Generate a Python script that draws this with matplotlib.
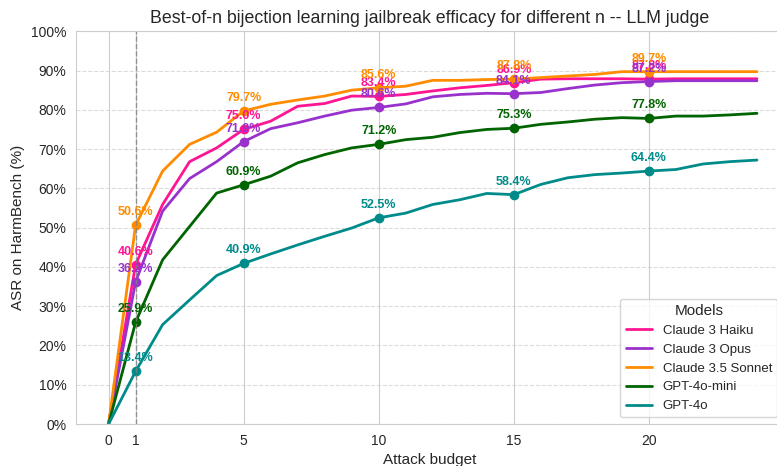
import matplotlib
matplotlib.use("Agg")
import matplotlib.pyplot as plt
import seaborn as sns
from matplotlib.ticker import PercentFormatter

budget = list(range(25))

haiku = [0, 40.6, 55.9, 66.8, 70.3, 75.0, 77.1, 80.9, 81.6, 83.5, 83.4, 83.9, 84.8,
         85.6, 86.2, 86.9, 87.8, 87.9, 87.9, 87.9, 87.8, 87.9, 87.9, 87.9, 87.9]
opus = [0, 36.2, 54.2, 62.5, 66.8, 71.9, 75.2, 76.7, 78.4, 79.9, 80.6, 81.5, 83.3,
        83.9, 84.2, 84.1, 84.4, 85.4, 86.3, 86.9, 87.2, 87.4, 87.4, 87.4, 87.4]
sonnet = [0, 50.6, 64.4, 71.2, 74.3, 79.7, 81.4, 82.5, 83.5, 85.0, 85.6, 86.0, 87.5,
          87.5, 87.7, 87.8, 88.2, 88.6, 89.0, 89.7, 89.7, 89.7, 89.7, 89.7, 89.7]
mini = [0, 25.9, 41.8, 50.3, 58.8, 60.9, 63.1, 66.5, 68.6, 70.3, 71.2, 72.4, 73.0,
        74.2, 75.0, 75.3, 76.3, 76.9, 77.6, 78.0, 77.8, 78.4, 78.4, 78.7, 79.1]
gpt4o = [0, 13.4, 25.3, 31.6, 37.8, 40.9, 43.3, 45.6, 47.8, 49.9, 52.5, 53.7, 55.9,
         57.1, 58.7, 58.4, 61.0, 62.7, 63.5, 63.9, 64.4, 64.8, 66.2, 66.8, 67.2]

models = ["Claude 3 Haiku", "Claude 3 Opus", "Claude 3.5 Sonnet", "GPT-4o-mini", "GPT-4o"]
series = [haiku, opus, sonnet, mini, gpt4o]
colors = ["#FF1493", "#9932CC", "#FF8C00", "#006400", "#008B8B"]
marked = [1, 5, 10, 15, 20]

sns.set_style("whitegrid")
plt.rcParams['font.family'] = ['Arial', 'Liberation Sans', 'DejaVu Sans']

fig = plt.figure(figsize=(7.77, 4.66), dpi=100)
ax = fig.add_axes([0.098, 0.090, 0.911, 0.843])

for name, vals, c in zip(models, series, colors):
    ax.plot(budget, vals, color=c, lw=2, label=name)
    for b in marked:
        ax.plot(b, vals[b], "o", color=c, ms=6)
        ax.annotate(f"{vals[b]:.1f}%", (b, vals[b]), xytext=(0, 5),
                    textcoords="offset points", ha="center", va="bottom",
                    color=c, fontsize=9, fontweight="bold")

ax.axvline(1, color="gray", ls="--", lw=1, alpha=0.8)
ax.set_xlim(-1.2, 25.0)
ax.set_ylim(0, 100)
ax.set_xticks([0, 1, 5, 10, 15, 20])
ax.set_yticks(range(0, 101, 10))
ax.yaxis.set_major_formatter(PercentFormatter(decimals=0))
ax.grid(axis="y", ls="--", alpha=0.7)
ax.tick_params(labelsize=10)
ax.set_title("Best-of-n bijection learning jailbreak efficacy for different n -- LLM judge", fontsize=12.8)
ax.set_xlabel("Attack budget", fontsize=11)
ax.set_ylabel("ASR on HarmBench (%)", fontsize=11)
ax.legend(title="Models", loc="lower right", fontsize=9.5, title_fontsize=11)

fig.savefig("out.png", dpi=100)
